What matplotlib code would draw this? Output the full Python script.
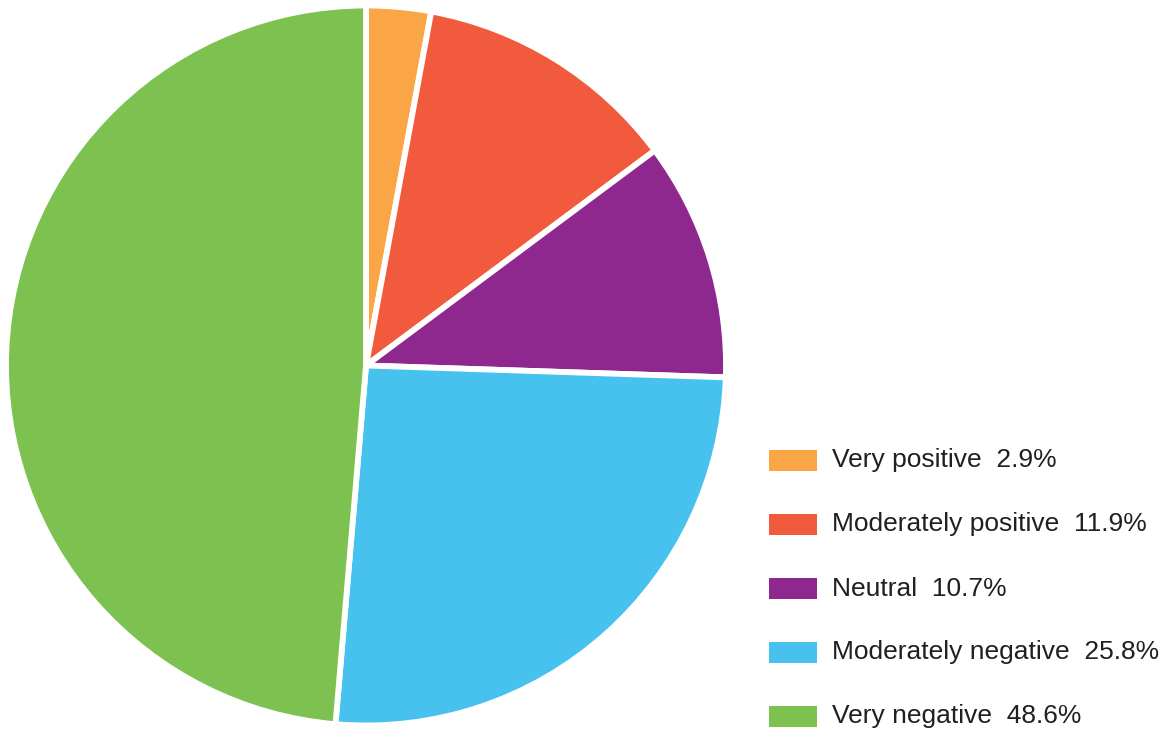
import matplotlib
matplotlib.use("Agg")
import matplotlib.pyplot as plt
from matplotlib.patches import Rectangle

categories = ["Very positive", "Moderately positive", "Neutral",
              "Moderately negative", "Very negative"]
shares = [2.9, 11.9, 10.7, 25.8, 48.6]
colors = ["#FBA646", "#F15A3C", "#8E288F", "#47C2EF", "#7DC250"]

W, H = 1160, 732
fig = plt.figure(figsize=(W / 100, H / 100), dpi=100)
fig.patch.set_facecolor("white")

# One axes covering the whole canvas, in pixel units (y grows downward)
ax = fig.add_axes([0, 0, 1, 1])
ax.set_xlim(0, W)
ax.set_ylim(H, 0)
ax.set_aspect("equal")
ax.axis("off")

# Inverted y-axis flips the sweep, so counterclock=True runs clockwise on screen
ax.pie(shares, colors=colors, startangle=-90, counterclock=True,
       center=(366, 365.5), radius=360,
       wedgeprops=dict(edgecolor="white", linewidth=4.2, joinstyle="miter"))
ax.set_xlim(0, W)
ax.set_ylim(H, 0)

# Legend: swatch + label with value
row_y0, row_step = 460.5, 64
for i, (cat, val, col) in enumerate(zip(categories, shares, colors)):
    y = row_y0 + i * row_step
    ax.add_patch(Rectangle((769, y - 10.5), 48, 21, facecolor=col,
                           edgecolor="none"))
    ax.text(832, y + 7, f"{cat}  {val:.1f}%", fontsize=19,
            family="Liberation Sans", color="#231F20",
            va="baseline", ha="left")

fig.savefig("out.png", dpi=100, facecolor="white")
